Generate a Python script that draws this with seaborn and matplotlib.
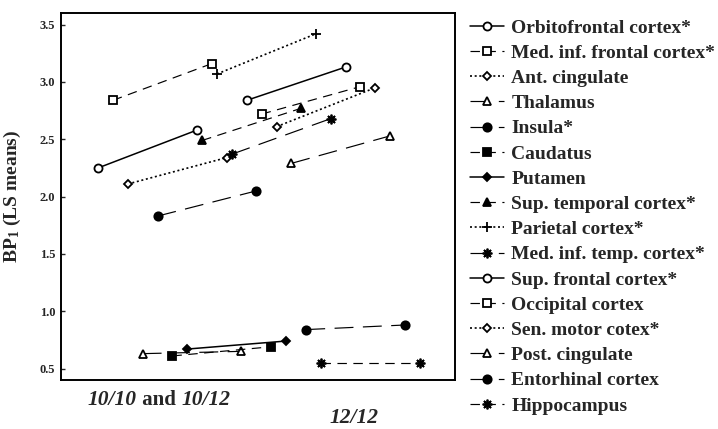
import pandas as pd
import seaborn as sns
import matplotlib.pyplot as plt

# Regional BP1 LS means: first point = 10/10 and 10/12, second point = 12/12
regions = ["Orbitofrontal cortex*", "Med. inf. frontal cortex*", "Ant. cingulate",
           "Thalamus", "Insula*", "Caudatus", "Putamen", "Sup. temporal cortex*",
           "Parietal cortex*", "Med. inf. temp. cortex*", "Sup. frontal cortex*",
           "Occipital cortex", "Sen. motor cotex*", "Post. cingulate",
           "Entorhinal cortex", "Hippocampus"]
bp_1010_1012 = [2.25, 2.84, 2.11, 0.63, 1.83, 0.61, 0.67, 2.49,
                3.07, 2.37, 2.84, 2.72, 2.61, 2.29, 0.84, 0.55]
bp_1212 = [2.58, 3.16, 2.34, 0.65, 2.05, 0.69, 0.74, 2.77,
           3.42, 2.68, 3.13, 2.96, 2.95, 2.53, 0.88, 0.55]
# horizontal slot of each region (pairs are staggered along an unlabeled axis)
slot_first = list(range(16))
slot_gap = 6.64

rows = []
for i, r in enumerate(regions):
    rows.append({"Region": r, "x": slot_first[i], "BP": bp_1010_1012[i]})
    rows.append({"Region": r, "x": slot_first[i] + slot_gap, "BP": bp_1212[i]})
df = pd.DataFrame(rows)

solid = "-"
dashed = (0, (8, 5.5))
longdash = (0, (16, 8))
dotted = (0, (1.2, 1.6))
# marker, filled, linestyle, marker size
styles = {
    "Orbitofrontal cortex*": ("o", False, solid, 5.8),
    "Med. inf. frontal cortex*": ("s", False, dashed, 5.6),
    "Ant. cingulate": ("D", False, dotted, 4.3),
    "Thalamus": ("^", False, longdash, 5.5),
    "Insula*": ("o", True, longdash, 6.0),
    "Caudatus": ("s", True, dashed, 6.2),
    "Putamen": ("D", True, solid, 4.5),
    "Sup. temporal cortex*": ("^", True, dashed, 6.0),
    "Parietal cortex*": ("+", True, dotted, 7.0),
    "Med. inf. temp. cortex*": ((8, 2, 0), True, longdash, 7.0),
    "Sup. frontal cortex*": ("o", False, solid, 5.8),
    "Occipital cortex": ("s", False, dashed, 5.6),
    "Sen. motor cotex*": ("D", False, dotted, 4.3),
    "Post. cingulate": ("^", False, longdash, 5.5),
    "Entorhinal cortex": ("o", True, longdash, 6.0),
    "Hippocampus": ((8, 2, 0), True, dashed, 7.0),
}

sns.set_theme(style="ticks")
plt.rcParams["font.family"] = ["Liberation Serif", "DejaVu Serif"]
plt.rcParams["font.weight"] = "bold"
plt.rcParams["mathtext.fontset"] = "custom"
plt.rcParams["mathtext.rm"] = "Liberation Serif:bold"
plt.rcParams["mathtext.it"] = "Liberation Serif:italic:bold"
plt.rcParams["mathtext.bf"] = "Liberation Serif:bold"

fig = plt.figure(figsize=(7.18, 4.29), dpi=100)
ax = fig.add_axes([0.085, 0.1142, 0.5487, 0.855])

for r in regions:
    m, filled, ls, ms = styles[r]
    lw = 1.1 if ls == solid else (1.2 if ls == dotted else 0.85)
    sns.lineplot(data=df[df["Region"] == r], x="x", y="BP", ax=ax,
                 color="black", linestyle=ls, linewidth=lw, marker=m,
                 markersize=ms, markerfacecolor="black" if filled else "white",
                 markeredgecolor="black", markeredgewidth=1.3, label=r)

ax.set_xlim(-2.49, 24.0)
ax.set_ylim(0.4, 3.6)
ax.set_xticks([])
ax.set_yticks([0.5, 1.0, 1.5, 2.0, 2.5, 3.0, 3.5])
ax.set_yticklabels(["0.5", "1.0", "1.5", "2.0", "2.5", "3.0", "3.5"])
ax.tick_params(axis="y", direction="in", length=3, width=1, labelsize=9, pad=4)
for s in ax.spines.values():
    s.set_linewidth(1.4)
    s.set_color("black")
ax.set_xlabel("")
ax.set_ylabel("BP$_1$ (LS means)", fontsize=14, fontweight="bold", labelpad=12)

# group labels under the axis
t1 = ax.text(88 / 718, 24 / 429, "10/10", transform=fig.transFigure,
             fontsize=15.5, fontstyle="italic", fontweight="bold", va="baseline")
t2 = ax.annotate(" and ", xy=(1, 0), xycoords=t1, fontsize=15,
                 fontweight="bold", va="bottom")
ax.annotate("10/12", xy=(1, 0), xycoords=t2, fontsize=15.5, fontstyle="italic",
            fontweight="bold", va="bottom")
ax.text(330 / 718, 1 / 429, "12/12", transform=fig.transFigure, fontsize=15.5,
        fontstyle="italic", fontweight="bold", va="bottom")

handles, labels = ax.get_legend_handles_labels()
ax.legend().remove()
fig.legend(handles, labels, loc="upper left", bbox_to_anchor=(470 / 718, 1 - 19 / 429),
           frameon=False, handlelength=1.75, handletextpad=0.38,
           labelspacing=0.39, borderpad=0, borderaxespad=0,
           prop={"weight": "bold", "size": 14})

fig.savefig("out.png", dpi=100)
